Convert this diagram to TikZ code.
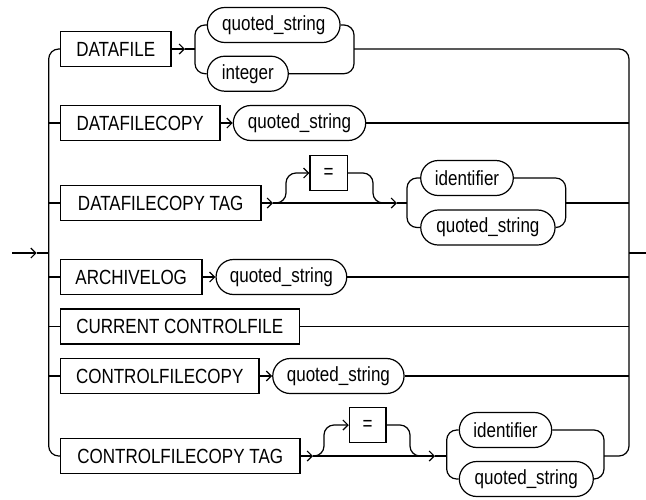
\documentclass[tikz,border=0pt]{standalone}
\usepackage{fontspec}
\setmainfont{Liberation Sans}[FakeStretch=0.83]
\usetikzlibrary{shapes.misc,arrows.meta}
\begin{document}
\begin{tikzpicture}[x=1pt,y=-1pt,
  line width=1.2pt,
  >={Straight Barb[length=5pt,width=10pt]},
  rc/.style={rounded corners=10pt},
  kw/.style={draw, rectangle, minimum height=35pt, inner sep=0pt, font=\fontsize{20.5}{23}\selectfont},
  ov/.style={draw, rounded rectangle, minimum height=35pt, inner sep=0pt, font=\fontsize{20.5}{23}\selectfont}]
\useasboundingbox (0,0) rectangle (646,499);
% nodes
\node[kw, minimum width=110.7pt] (dfile) at (115.7,49) {DATAFILE};
\node[ov, minimum width=132.7pt] (qs1) at (273.7,25) {quoted\_string};
\node[ov, minimum width=81pt] (int) at (247.8,73.7) {integer};
\node[kw, minimum width=159.7pt] (dfc) at (140.2,123) {DATAFILECOPY};
\node[ov, minimum width=132.4pt] (qs2) at (299.5,123) {quoted\_string};
\node[kw, minimum width=200.7pt] (dtag) at (160.7,203) {DATAFILECOPY TAG};
\node[kw, minimum width=37.3pt] (eq1) at (328.7,173) {=};
\node[ov, minimum width=92.6pt] (id1) at (467,178) {identifier};
\node[ov, minimum width=134.3pt] (qs3) at (487.9,227.5) {quoted\_string};
\node[kw, minimum width=141.7pt] (arch) at (131.2,277) {ARCHIVELOG};
\node[ov, minimum width=130.7pt] (qs4) at (281.4,277) {quoted\_string};
\node[kw, minimum width=239pt] (ccf) at (179.8,326.5) {CURRENT CONTROLFILE};
\node[kw, minimum width=198.7pt] (cfc) at (159.7,376) {CONTROLFILECOPY};
\node[ov, minimum width=131.3pt] (qs5) at (338.4,376) {quoted\_string};
\node[kw, minimum width=239.7pt] (ctag) at (180.2,456) {CONTROLFILECOPY TAG};
\node[kw, minimum width=36.7pt] (eq2) at (367.7,425) {=};
\node[ov, minimum width=92.4pt] (id2) at (505.5,430) {identifier};
\node[ov, minimum width=134pt] (qs6) at (526.3,479) {quoted\_string};
% coordinates
\coordinate (in) at (12,253);
\coordinate (intip) at (36.7,253);
\coordinate (out) at (646,253);
\coordinate (lrail) at (48.7,253);
\coordinate (rrail) at (629,253);
% entry / exit
\draw[->] (in) -- (intip);
\draw (intip) -- (lrail);
\draw (rrail) -- (out);
% left rail
\draw[rc] (dfile.west) -- (48.7,49) -- (48.7,456) -- (ctag.west);
\draw (48.7,123) -- (dfc.west);
\draw (48.7,203) -- (dtag.west);
\draw (48.7,277) -- (arch.west);
\draw (48.7,326.5) -- (ccf.west);
\draw (48.7,376) -- (cfc.west);
% right rail (top row exit + rail + bottom row exit)
\draw[rc] (354,49) -- (629,49) -- (629,456) -- (604,456);
% row 1
\draw[->] (dfile.east) -- (185,49);
\draw (185,49) -- (195,49);
\draw[rc] (qs1.west) -- (195,25) -- (195,73.7) -- (int.west);
\draw[rc] (qs1.east) -- (354,25) -- (354,73.7) -- (int.east);
% row 2
\draw[->] (dfc.east) -- (qs2.west);
\draw (qs2.east) -- (629,123);
% row 3
\draw[->] (dtag.east) -- (273,203);
\draw[->] (273,203) -- (397,203);
\draw (397,203) -- (407,203);
\draw[rc,->] (274,203) -- (286,203) -- (286,173) -- (eq1.west);
\draw[rc] (eq1.east) -- (373,173) -- (373,203) -- (385,203);
\draw[rc] (id1.west) -- (407,178) -- (407,227.5) -- (qs3.west);
\draw[rc] (id1.east) -- (565.7,178) -- (565.7,227.5) -- (qs3.east);
\draw (565.7,203) -- (629,203);
% row 4
\draw[->] (arch.east) -- (qs4.west);
\draw (qs4.east) -- (629,277);
% row 5
\draw (ccf.east) -- (629,326.5);
% row 6
\draw[->] (cfc.east) -- (qs5.west);
\draw (qs5.east) -- (629,376);
% row 7
\draw[->] (ctag.east) -- (313,456);
\draw[->] (313,456) -- (435,456);
\draw (435,456) -- (446.7,456);
\draw[rc,->] (314,456) -- (324,456) -- (324,425) -- (eq2.west);
\draw[rc] (eq2.east) -- (410,425) -- (410,456) -- (422,456);
\draw[rc] (id2.west) -- (446.7,430) -- (446.7,479) -- (qs6.west);
\draw[rc] (id2.east) -- (604,430) -- (604,479) -- (qs6.east);
\end{tikzpicture}
\end{document}
